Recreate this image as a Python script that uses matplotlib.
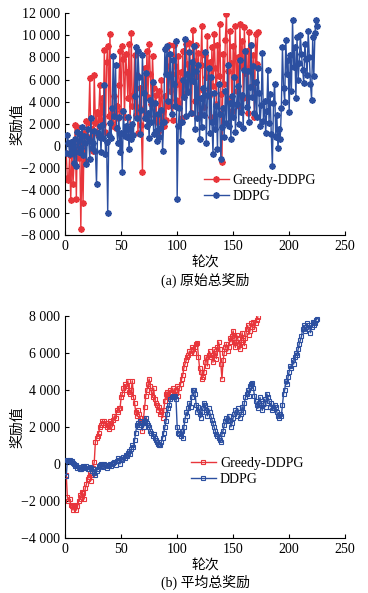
import numpy as np
import matplotlib
matplotlib.use("Agg")
import matplotlib.pyplot as plt
from matplotlib.ticker import FuncFormatter, MultipleLocator

plt.rcParams['font.family'] = ['Liberation Serif', 'Noto Sans CJK SC']
plt.rcParams['axes.unicode_minus'] = True

# ---- data: raw total reward per episode ----
greedy_raw = [
    -600, -2900, -3100, -800, -4900, -300, -3400, -1600, 1900, -4800,
    1700, -1100, 300, -7500, -500, -5100, 1200, -1300, 2300, 800,
    2200, 6100, 500, 1500, -400, 6400, 2100, 3100, 1000, 2900,
    5500, 2400, 4300, 2000, 8700, 1300, 7600, 9000, 2700, 10100,
    2200, 3100, 1800, 4500, 1600, 3600, 2500, 5500, 8600, 3200,
    9000, 7900, 2600, 8300, 6700, 4300, 9200, 1500, 10200, 3600,
    4600, 8200, 2800, 6400, 1200, 3500, 5200, 1900, -2300, 4800,
    7000, 2600, 8600, 4400, 9200, 6500, 3800, 8100, 5200, 2700,
    4600, 2200, 1300, 5000, 2600, 6000, 3200, 1800, 4500, 2400,
    7200, 3600, 9100, 5000, 6500, 2400, 9100, 7200, 4200, 5600,
    8100, 3900, 6700, 2500, 8600, 4700, 6500, 9200, 7400, 5000,
    9300, 6500, 3000, 10500, 7700, 4100, 9100, 6300, 8400, 2900,
    7300, 10800, 5100, 3500, 8200, 6200, 9900, 4500, 7600, 2600,
    8900, 5400, 10100, 7000, 3800, 9100, 6300, 11000, 4700, -1400,
    8300, 5600, 9600, 11900, 6800, 4200, 10400, 7500, 3200, 9000,
    6200, 10800, 5000, 8000, 3600, 11000, 7200, 9500, 4300, 10700,
    6600, 8600, 3000, 10300, 7100, 9100, 5400, 8200, 2600, 10100,
    7400, 10300,
]

ddpg_raw = [
    -600, 1000, 300, -700, 400, -300, 200, -1500, 600, -1800,
    1300, -500, 1100, -200, 1700, -800, 900, 300, -1600, 1500,
    600, -1200, 2500, -200, 300, 1400, -400, -3400, 1200, 800,
    1800, -500, 1900, 700, 5500, -700, 400, -6000, 1000, 2100,
    700, 3400, 8100, 2700, 7300, 1600, 300, 2600, -500, 1200,
    -2300, 3200, 900, 1800, 800, 2600, -300, 1500, 600, 2000,
    1000, 4500, 8900, 2500, 8600, 6200, 1100, 3300, 8200, 4800,
    2500, 6600, 1800, 3000, 700, 4200, 2200, 5800, 1100, 3900,
    1400, 500, 2900, 800, 1600, 3300, -400, 2200, 8800, 6500,
    9000, 4100, 6300, 8300, 2900, 7800, 5600, 3600, 9500, -4800,
    1800, 3400, 500, 2200, 6000, 4400, 9700, 2700, 6500, 4900,
    8500, 3000, 7600, 5900, 9000, 1500, 6800, 2500, 7300, 600,
    4300, 1700, 5200, 2800, 8500, 300, 4600, 7000, 1200, 6200,
    2200, -700, 4800, 1500, 3600, -300, 5600, 2900, -1200, 1700,
    3400, 800, 5000, 2100, 7300, 1800, 3900, 600, 4500, 2600,
    6200, 1300, 3800, 5400, 2000, 7800, 3100, 4600, 1600, 6900,
    8600, 3500, 6800, 2200, 5300, 9100, 4400, 7200, 3000, 5800,
    2600, 7000, 4800, 1800, 3700, 8400, 2300, 4100, 1200, 3200,
    6900, 2100, 4700, 1100, -1800, 3900, 5600, 800, 2800, -200,
    1500, 600, 3400, 8900, 5200, 4000, 9600, 6500, 7800, 3100,
    8200, 5000, 11400, 7100, 8900, 4300, 9800, 6000, 7500, 10000,
    8300, 6900, 5700, 9200, 7900, 6400, 10400, 8000, 5600, 4200,
    9800, 6300, 10200, 11400, 10800,
]

# ---- data: average total reward per episode ----
greedy_avg = [
    -600, -1800, -2000, -1900, -2200, -2300, -2500, -2300, -2200, -2500,
    -2300, -2000, -1700, -1900, -1500, -1600, -1900, -1300, -1100, -800,
    -700, -500, -900, -600, -200, 100, 1200, 1400, 1500, 1700,
    2000, 2100, 2300, 2200, 2300, 2100, 2000, 2200, 1900, 2300,
    2200, 2000, 2400, 2600, 2500, 2900, 2800, 3000, 3000, 3600,
    3800, 4100, 4300, 4000, 4200, 4500, 3900, 3800, 4000, 4500,
    3600, 3300, 2800, 2600, 2900, 2700, 2500, 2200, 1800, 2500,
    3100, 3700, 4000, 4300, 4600, 4200, 3900, 3600, 4100, 3500,
    3300, 3200, 2900, 3100, 2700, 2800, 2500, 2900, 3400, 3800,
    3900, 3700, 3600, 4000, 3900, 4100, 3800, 3700, 4000, 4200,
    3700, 4100, 4300, 4600, 4800, 5200, 5400, 5600, 5800, 5900,
    6100, 6000, 6300, 6200, 6000, 6300, 6500, 6540, 5800, 5200,
    5000, 4600, 4700, 5000, 5500, 5800, 5300, 5900, 6100, 5800,
    5900, 5500, 6200, 6000, 5700, 6300, 6600, 6200, 5400, 4600,
    5600, 6000, 6300, 6500, 6100, 6300, 6800, 6600, 6900, 7200,
    6600, 6300, 7000, 6800, 6500, 6200, 6600, 7100, 6700, 6400,
    6800, 7300, 7500, 7000, 7200, 7600, 7400, 7700, 7300, 7600,
    7800, 7950,
]

ddpg_avg = [
    -650, 200, 150, 200, 100, 150, 50, 0, -100, -50,
    -200, -150, -250, -300, -200, -100, -150, -200, -100, -250,
    -300, -150, -200, -400, -300, -500, -600, -400, -250, -100,
    -50, 0, -100, -150, 0, -50, -200, -100, -50, 0,
    -100, 0, 50, 100, -50, 150, 300, 200, 0, 250,
    200, 400, 300, 500, 450, 600, 700, 550, 800, 1000,
    900, 1300, 1700, 2100, 2200, 2000, 2300, 2100, 2200, 2000,
    2300, 2500, 2200, 2100, 2000, 1800, 1700, 1500, 1600, 1400,
    1300, 1200, 1100, 1050, 1000, 1200, 1400, 1700, 2000, 2300,
    2700, 3000, 3200, 3500, 3600, 3700, 3600, 3700, 3500, 2000,
    1700, 1600, 1500, 1800, 1400, 2000, 2400, 2800, 2600, 3000,
    3300, 3100, 3600, 4000, 4000, 3800, 3200, 2800, 3100, 2700,
    2500, 2800, 3000, 3300, 3200, 2900, 2600, 3000, 2800, 2600,
    2400, 2200, 2000, 1800, 1600, 1500, 1400, 1300, 1200, 1600,
    1800, 2100, 2300, 2500, 2300, 2600, 2400, 2000, 2200, 2500,
    2700, 2900, 2600, 3000, 2800, 2500, 2700, 3100, 2800, 3300,
    3600, 3800, 4000, 3700, 4200, 4300, 4400, 4100, 3700, 3400,
    3200, 3000, 3300, 3600, 3200, 2900, 3300, 3500, 3100, 3800,
    3600, 3400, 3100, 3300, 2900, 3000, 3200, 3100, 2800, 2600,
    2500, 2700, 2600, 3200, 3800, 4000, 4500, 4300, 4700, 5000,
    5300, 5200, 5600, 5400, 5800, 6000, 5900, 6200, 6500, 6700,
    6900, 7300, 7500, 7200, 7400, 7600, 7300, 7500, 7100, 7400,
    7700, 7500, 7600, 7800, 7850,
]

labels = ['Greedy-DDPG', 'DDPG']
captions = ['(a) 原始总奖励', '(b) 平均总奖励']
RED = '#e8353b'
BLUE = '#2c4fa0'


def fmt(v, pos):
    s = f"{abs(v):,.0f}".replace(",", " ")
    return ("\u2212" + s) if v < 0 else s


def style_axis(ax, ylim):
    ax.set_xlim(0, 250)
    ax.set_ylim(*ylim)
    ax.xaxis.set_major_locator(MultipleLocator(50))
    ax.yaxis.set_major_locator(MultipleLocator(2000))
    ax.yaxis.set_major_formatter(FuncFormatter(fmt))
    ax.spines['top'].set_visible(False)
    ax.spines['right'].set_visible(False)
    ax.tick_params(direction='in', length=3, width=0.8, labelsize=10)
    ax.set_xlabel('轮次', fontsize=10, labelpad=3)
    ax.set_ylabel('奖励值', fontsize=10)
    ax.yaxis.set_label_coords(-0.145, 0.5)


fig = plt.figure(figsize=(3.68, 5.93), dpi=100)
ax1 = fig.add_axes([0.177, 0.604, 0.761, 0.374])
ax2 = fig.add_axes([0.177, 0.093, 0.761, 0.374])

# (a) raw reward
ep_g = np.arange(1, len(greedy_raw) + 1)
ep_d = np.arange(1, len(ddpg_raw) + 1)
star = (8, 2, 0)
ax1.plot(ep_g, greedy_raw, color=RED, lw=1.0, marker=star, ms=4.5, mew=1.3,
         label=labels[0], zorder=2)
ax1.plot(ep_d, ddpg_raw, color=BLUE, lw=1.0, marker=star, ms=4.5, mew=1.3,
         label=labels[1], zorder=3)
style_axis(ax1, (-8000, 12000))
ax1.legend(loc='center left', bbox_to_anchor=(0.45, 0.21), frameon=False,
           fontsize=10, handlelength=1.8, handletextpad=0.3, labelspacing=0.2)

# (b) average reward
ep_ga = np.arange(1, len(greedy_avg) + 1)
ep_da = np.arange(1, len(ddpg_avg) + 1)
ax2.plot(ep_ga, greedy_avg, color=RED, lw=1.0, marker='s', ms=3.5, mew=0.8,
         mfc='none', label=labels[0], zorder=2)
ax2.plot(ep_da, ddpg_avg, color=BLUE, lw=1.0, marker='s', ms=3.5, mew=0.8,
         mfc='none', label=labels[1], zorder=3)
style_axis(ax2, (-4000, 8000))
ax2.legend(loc='center left', bbox_to_anchor=(0.404, 0.30), frameon=False,
           fontsize=10, handlelength=1.8, handletextpad=0.3, labelspacing=0.2)

for ax, cap, y in [(ax1, captions[0], 280), (ax2, captions[1], 582)]:
    pos = ax.get_position()
    fig.text((pos.x0 + pos.x1) / 2, 1 - y / 593, cap, ha='center',
             va='center', fontsize=10)

fig.savefig('out.png', dpi=100)
